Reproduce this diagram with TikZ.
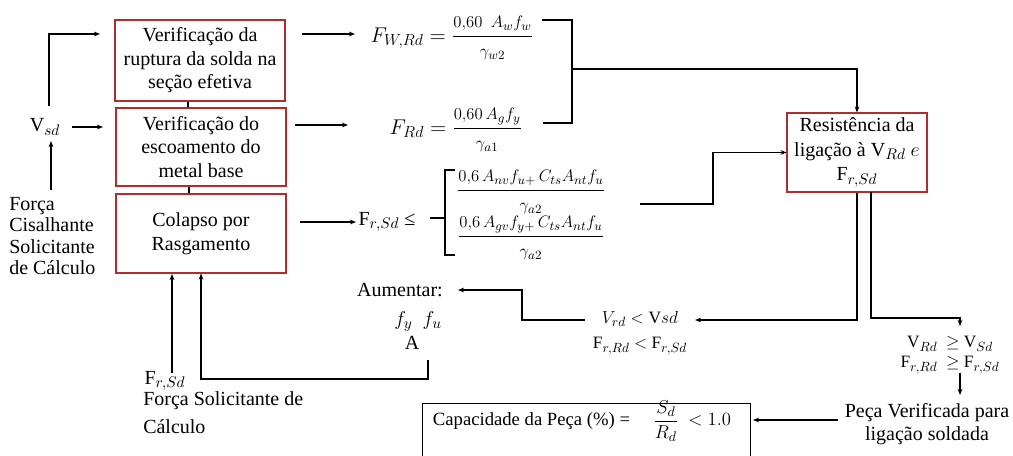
\RequirePackage{fix-cm}
\documentclass[tikz,border=0pt]{standalone}
\usepackage{amsmath}
\usepackage{fontspec}
\setmainfont{Liberation Serif}
\usetikzlibrary{arrows.meta}
\DeclareMathSizes{16}{16}{12}{9}
\DeclareMathSizes{15}{15}{11.5}{8.5}
\DeclareMathSizes{14}{14}{10.5}{8}
\DeclareMathSizes{13}{13}{10}{7.5}
\DeclareMathSizes{12.5}{12.5}{9.5}{7.5}
\definecolor{boxred}{RGB}{175,45,45}
\newcommand\smf[1]{\mbox{\fontsize{12.5}{14}\selectfont$#1$}}
\begin{document}
\begin{tikzpicture}[x=0.75pt,y=-0.75pt,
  every node/.style={font=\fontsize{15}{17.6}\selectfont, inner sep=0pt},
  rbox/.style={draw=boxred, line width=0.8pt, align=center, minimum width=127.5pt},
  ln/.style={line width=0.8pt},
  arr/.style={line width=0.8pt, -{Stealth[length=4.5pt,width=3.5pt]}},
  small/.style={font=\fontsize{13}{15}\selectfont, align=center},
  frm/.style={font=\fontsize{16}{19}\selectfont},
]
\useasboundingbox (0,0) rectangle (1013,455);

% boxes
\node[rbox, minimum height=60.75pt] (b1) at (200,60.5) {Verificação da\\ruptura da solda na\\seção efetiva};
\node[rbox, minimum height=58.5pt] (b2) at (201,147) {Verificação do\\escoamento do\\metal base};
\node[rbox, minimum height=59.25pt] (b3) at (201,233.5) {Colapso por\\Rasgamento};
\node[rbox, minimum width=105pt, minimum height=59.25pt, font=\fontsize{15}{18.5}\selectfont] (res) at (857,152.5) {Resistência da\\ligação à V$_{Rd}$ $e$\\F$_{r,Sd}$};
\draw[ln] ([xshift=-9pt]b1.south) -- ([xshift=-9pt]b1.south |- b2.north);
\draw[ln] ([xshift=-9pt]b2.south) -- ([xshift=-9pt]b2.south |- b3.north);

% left inputs
\node (vsd) at (45,127) {V$_{sd}$};
\node[align=left, anchor=north west, font=\fontsize{15}{16}\selectfont] (fcs) at (9,197) {Força\\Cisalhante\\Solicitante\\de Cálculo};
\draw[arr] (51,190) -- (51,141);
\draw[arr] (49,106) |- (100,34);
\draw[arr] (72,127) -- (103,127);

% formulas
\node[frm] (fw) at (452,38) {$F_{W,Rd} = \dfrac{\smf{0{,}60\ \ A_w f_w}}{\smf{\gamma_{w2}}}$};
\node[frm] (frd) at (456,130) {$F_{Rd} = \dfrac{\smf{0{,}60\,A_g f_y}}{\smf{\gamma_{a1}}}$};
\node (frsd) at (387,222) {F$_{r,Sd}$ ≤};
\node[frm] (fr1) at (531,192) {$\dfrac{\smf{0{,}6\,A_{nv} f_{u+}\, C_{ts} A_{nt} f_u}}{\smf{\gamma_{a2}}}$};
\node[frm] (fr2) at (531,238) {$\dfrac{\smf{0{,}6\,A_{gv} f_{y+}\, C_{ts} A_{nt} f_u}}{\smf{\gamma_{a2}}}$};
\draw[ln] (455,170) -- (445,170) -- (445,255) -- (455,255);
\draw[ln] (430,218) -- (445,218);

\draw[arr] (302,34) -- (355,34);
\draw[arr] (295,125) -- (348,125);
\draw[arr] (300,222) -- (356,222);

\draw[ln] (542,20) -- (572,20) -- (572,123) -- (543,123);
\draw[arr] (572,69) -| (res.north);
\draw[arr] (640,204) -- (713,204) |- (res.west);

% outputs of res
\node[small, font=\fontsize{13}{19}\selectfont] (vlt) at (640,333) {$V_{rd} < \mathrm{V}sd$\\F$_{r,Rd}$ $<$ F$_{r,Sd}$};
\node[small] (vge) at (950,355) {V$_{Rd}$ \ $\geq$ V$_{Sd}$\\F$_{r,Rd}$ \ $\geq$ F$_{r,Sd}$};
\draw[arr] (res.south) -- (857,320) -- (695,320);
\draw[arr] (871,192) -- (871,318) -- (960,318) -- (960,326);
\draw[arr] (960,373) -- (960,395);
\node[align=center] (pv) at (927,424) {Peça Verificada para\\ligação soldada};
\draw[arr] (838,420) -- (753,420);

% capacity box
\node[draw, line width=0.8pt, minimum width=246pt, minimum height=50pt, anchor=north west] (capbox) at (422,403) {};
\node[font=\fontsize{14}{17}\selectfont] (cap) at (582,421) {Capacidade da Peça (\%) = \quad $\dfrac{S_d}{R_d}\ <1.0$};

% aumentar
\node (aum) at (400,290) {Aumentar:};
\node (fyfu) at (418,322) {$f_y\ \ f_u$};
\node (aa) at (412,343) {A};
\draw[arr] (585,320) -- (522,320) -- (522,290) -- (458,290);
\draw[arr] (428,360) |- (b3.south |- 0,379) -- (b3.south);

% bottom input
\node (frsd2) at (165,381) {F$_{r,Sd}$};
\node[align=left, anchor=north west] (fsc) at (143,391) {Força Solicitante de\\[4pt]Cálculo};
\draw[arr] (172,373) -- (172,274);
\end{tikzpicture}
\end{document}
